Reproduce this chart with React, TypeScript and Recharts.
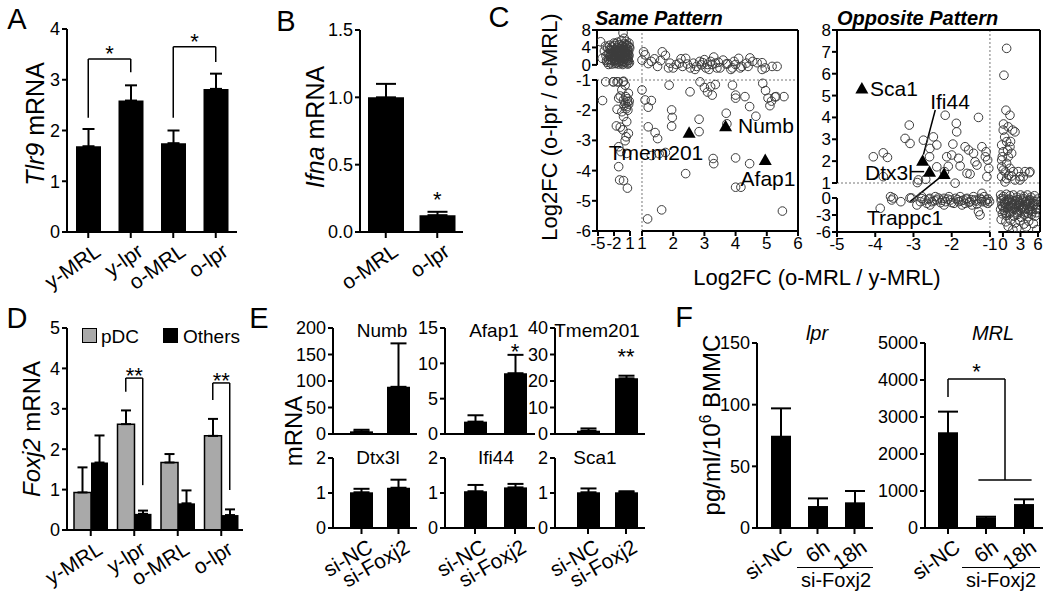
import React from 'react'
import {
  BarChart, Bar, ErrorBar, XAxis, YAxis, ReferenceLine, ReferenceDot,
  ScatterChart, Scatter,
} from 'recharts'

const FONT = '"Liberation Sans", Arial, Helvetica, sans-serif'
const INK = '#000'
const GREY = '#a9a9a9'
const AX = { stroke: INK, strokeWidth: 2 }

// ---------- A: Tlr9 ----------
const A_GROUPS = ['y-MRL', 'y-lpr', 'o-MRL', 'o-lpr']
const A_TLR9 = [1.69, 2.59, 1.75, 2.82]
const A_TLR9_SEM = [0.34, 0.3, 0.25, 0.3]

// ---------- B: Ifna ----------
const B_GROUPS = ['o-MRL', 'o-lpr']
const B_IFNA = [1.0, 0.125]
const B_IFNA_SEM = [0.1, 0.025]

// ---------- D: Foxj2 ----------
const D_GROUPS = ['y-MRL', 'y-lpr', 'o-MRL', 'o-lpr']
const D_PDC = [0.93, 2.62, 1.67, 2.33]
const D_PDC_SEM = [0.62, 0.34, 0.21, 0.42]
const D_OTHERS = [1.67, 0.4, 0.66, 0.37]
const D_OTHERS_SEM = [0.67, 0.08, 0.32, 0.14]

// ---------- E: knockdown ----------
const E_GROUPS = ['si-NC', 'si-Foxj2']
const E_NUMB = [5, 89], E_NUMB_SEM = [3, 82]
const E_AFAP1 = [1.75, 8.6], E_AFAP1_SEM = [0.9, 2.6]
const E_TMEM201 = [1.25, 21], E_TMEM201_SEM = [0.85, 1.0]
const E_DTX3L = [1.02, 1.15], E_DTX3L_SEM = [0.1, 0.23]
const E_IFI44 = [1.05, 1.16], E_IFI44_SEM = [0.18, 0.1]
const E_SCA1 = [1.02, 1.02], E_SCA1_SEM = [0.11, 0.03]

// ---------- F: IFN-a protein ----------
const F_GROUPS = ['si-NC', '6h', '18h']
const F_LPR = [74, 17, 20], F_LPR_SEM = [23, 7, 10]
const F_MRL = [2560, 262, 620], F_MRL_SEM = [585, 43, 155]

// ---------- C: scatter (Log2FC o-MRL/y-MRL , Log2FC o-lpr/o-MRL) ----------
// same pattern, x segment -5..1
const SAME_BLOB = [
  [-4.5, 5.3], [-0.3, 7.3], [-0.1, 6.1], [-3.8, 3.2], [-3.5, 2.1], [-3.2, 3.9], [-3.0, 1.2], [-2.9, 2.7],
  [-2.7, 0.5], [-2.6, 3.4], [-2.5, 1.8], [-2.4, 4.1], [-2.3, 2.4], [-2.2, 0.9], [-2.1, 3.0], [-2.0, 1.5],
  [-1.9, 4.4], [-1.85, 2.1], [-1.8, 0.3], [-1.7, 3.6], [-1.6, 1.2], [-1.55, 2.8], [-1.5, 4.0], [-1.4, 0.7],
  [-1.35, 1.9], [-1.3, 3.2], [-1.2, 2.4], [-1.15, 0.2], [-1.1, 4.6], [-1.0, 1.5], [-0.95, 3.0], [-0.9, 0.8],
  [-0.8, 2.2], [-0.75, 3.8], [-0.7, 1.1], [-0.6, 2.9], [-0.55, 0.4], [-0.5, 4.3], [-0.45, 1.7], [-0.4, 2.5],
  [-0.3, 3.5], [-0.25, 0.9], [-0.2, 2.0], [-0.1, 4.8], [-0.05, 1.3], [0.0, 3.1], [0.1, 0.6], [0.15, 2.3],
  [0.2, 4.0], [0.25, 1.6], [0.3, 2.8], [0.4, 0.3], [0.45, 3.6], [0.5, 1.9], [0.55, 2.6], [0.6, 4.4],
  [0.7, 1.0], [0.75, 3.2], [0.8, 2.1], [0.9, 0.5], [0.95, 3.9], [-2.8, 4.5], [-2.0, 5.0], [-1.3, 5.2],
  [-0.6, 5.6], [0.3, 5.4], [0.8, 5.0], [-3.3, 0.6], [-2.4, 0.2], [-1.9, 1.0], [-1.2, 1.2], [-0.35, 0.1],
  [0.55, 0.9], [-1.6, 3.0], [-0.9, 2.6], [0.05, 2.7], [0.65, 1.5], [-2.6, 2.6], [-2.2, 1.6], [-1.75, 4.8],
  [-1.05, 3.7], [-0.15, 3.9], [0.35, 4.7], [-3.6, 4.3], [-4.2, 1.5], [-3.4, 1.0], [-3.1, 2.4], [-2.85, 3.6],
  [-2.55, 1.1], [-2.35, 3.3], [-2.15, 2.1], [-1.95, 2.9], [-1.65, 1.7], [-1.45, 2.6], [-1.25, 3.9],
  [-1.05, 0.6], [-0.85, 1.9], [-0.65, 3.3], [-0.45, 0.7], [-0.25, 2.9], [-0.05, 1.9], [0.15, 3.3],
  [0.35, 1.2], [0.55, 3.0], [0.75, 2.4], [0.85, 4.2], [-1.55, 0.4], [-2.75, 1.9], [-3.0, 0.1], [0.65, 0.2],
  [-0.35, 4.4], [-1.85, 3.4], [0.25, 2.0],
]
const SAME_COL = [
  [-2.15, -1.06], [-1.42, -1.06], [-0.21, -1.04], [0.09, -1.17], [-0.52, -1.33], [0.7, -1.44], [-0.82, -1.53],
  [-0.21, -1.66], [0.09, -1.77], [0.52, -1.72], [-1.12, -1.6], [0.39, -1.88], [-1.42, -1.97], [-0.52, -2.05],
  [-0.21, -2.21], [0.39, -2.38], [-1.55, -2.52], [-0.82, -2.56], [-0.33, -2.65], [0.7, -2.77], [0.27, -2.88],
  [0.09, -3.01], [-4.15, -1.68], [-1.12, -3.21], [-0.7, -3.37], [0.39, -3.43], [-1.12, -3.87], [-0.94, -4.31],
  [-0.21, -4.33], [0.52, -4.58], [0.2, -1.55], [0.5, -1.62], [0.75, -1.8], [0.3, -1.95], [0.6, -2.0],
  [0.85, -1.7], [-0.1, -1.85], [-3.55, -1.06], [-2.1, -1.06], [-1.2, -1.06], [-0.3, -1.06],
]
// same pattern, x segment 1..6
const SAME_TOP = [
  [1.05, 3.0], [1.1, 2.3], [1.0, 1.1], [1.3, 0.8], [1.4, 1.4], [1.65, 3.0], [1.75, 2.2], [1.6, 1.0],
  [1.9, 0.4], [2.0, -0.2], [2.1, 0.1], [2.2, 0.4], [2.3, -0.1], [2.4, 1.5], [2.45, 0.2], [2.55, -0.2],
  [2.65, 0.4], [2.75, -0.1], [2.85, 0.8], [2.95, 0.5], [3.0, 1.2], [3.1, 0.1], [3.2, 0.8], [3.3, 1.8],
  [3.35, 0.4], [3.5, -0.2], [3.6, 1.1], [3.7, 0.2], [3.85, -0.3], [3.95, 0.8], [4.1, 1.5], [4.15, -0.2],
  [4.35, 0.4], [4.55, 0.8], [4.85, -0.3], [4.95, -0.2], [2.25, 1.4], [1.85, -0.2], [3.05, -0.2], [3.4, -0.2],
  [3.9, -0.2], [4.2, -0.1], [3.15, -0.3], [2.7, -0.3], [1.2, 0.3], [1.5, -0.1], [2.9, 0.0], [3.25, 0.1],
  [3.45, 0.6], [3.75, 0.3], [4.0, 0.1], [4.4, -0.1], [4.46, 1.6], [4.69, 0.5], [4.85, 0.5], [5.17, -0.1],
  [5.33, -0.1],
]
const SAME_LOW = [
  [1.0, -1.33], [1.1, -1.66], [1.3, -1.68], [1.2, -1.9], [1.87, -1.17], [2.54, -1.39], [2.86, -1.06],
  [3.0, -1.25], [3.1, -1.4], [3.2, -1.22], [3.25, -1.5], [3.35, -1.15], [1.95, -1.99], [1.97, -2.24],
  [1.95, -2.53], [1.2, -2.55], [1.42, -2.74], [1.5, -2.94], [1.3, -3.5], [1.55, -3.44], [1.75, -3.4],
  [2.83, -2.3], [2.83, -2.71], [2.4, -4.1], [3.7, -2.1], [3.72, -2.45], [3.28, -3.6], [3.3, -3.77],
  [4.0, -1.5], [4.0, -1.6], [4.3, -1.55], [4.45, -1.88], [4.65, -2.2], [3.9, -1.17], [4.0, -3.58],
  [4.45, -3.77], [4.0, -4.55], [4.17, -4.55], [4.87, -1.11], [4.96, -1.35], [5.15, -1.7], [5.3, -1.55],
  [5.55, -1.55], [5.1, -1.85], [5.5, -5.34], [1.63, -5.3], [1.18, -5.6], [5.04, -1.6], [5.26, -1.56],
]
const SAME_GENES = [[2.51, -2.75], [3.68, -2.53], [4.95, -3.65]] // Tmem201, Numb, Afap1

// opposite pattern, x segment -5..-1
const OPP_UP = [
  [-4.05, 2.2], [-3.79, 2.38], [-3.68, 2.17], [-3.79, 1.29], [-3.22, 3.04], [-3.09, 2.81], [-3.11, 3.65],
  [-2.74, 2.96], [-2.48, 3.11], [-2.39, 2.74], [-2.57, 2.58], [-2.58, 2.2], [-2.39, 1.74], [-2.17, 4.1],
  [-1.88, 3.73], [-1.87, 3.34], [-1.97, 2.78], [-2.13, 2.2], [-2.0, 2.28], [-1.82, 2.13], [-1.65, 2.66],
  [-1.56, 2.51], [-1.43, 2.36], [-1.3, 4.0], [-1.21, 2.66], [-1.39, 1.97], [-1.34, 1.82], [-1.6, 1.44],
  [-1.52, 1.41], [-1.1, 2.43], [-1.06, 2.05], [-1.03, 1.67], [-1.12, 2.2], [-1.78, 1.78], [-2.09, 1.76],
  [-2.19, 1.52], [-1.91, 0.99], [-2.87, 1.14], [-2.9, 1.02], [-2.68, 1.17], [-1.08, 1.29],
]
const OPP_LOW = [
  [-3.87, -1.82], [-3.6, 0.09], [-3.57, -0.35], [-3.33, -0.65], [-3.05, 0.0], [-2.82, -0.65], [-2.78, 0.09],
  [-2.7, -0.35], [-2.65, -0.94], [-2.57, -0.06], [-2.52, -0.65], [-2.43, 0.09], [-2.39, -0.35], [-2.29, -0.82],
  [-2.2, -0.06], [-2.16, -0.65], [-2.07, 0.09], [-2.03, -0.35], [-1.94, -0.94], [-1.9, -0.06], [-1.82, -0.65],
  [-1.78, 0.09], [-1.69, -0.35], [-1.65, -0.94], [-1.6, -0.06], [-1.52, -0.65], [-1.43, 0.09], [-1.39, -0.35],
  [-1.34, -1.06], [-1.26, -0.06], [-1.21, -0.65], [-1.15, 0.09], [-1.1, -0.35], [-1.06, -0.94], [-1.01, -0.65],
  [-1.3, -2.41], [-1.26, -3.0], [-1.47, -1.23], [-1.73, -1.23], [-2.2, -1.23], [-2.91, -1.23], [-2.57, -1.23],
  [-1.21, 0.31], [-2.6, -0.2], [-2.45, -0.5], [-2.35, 0.0], [-2.25, -0.4], [-2.1, -0.2], [-2.0, -0.8],
  [-1.85, -0.3], [-1.75, -0.5], [-1.62, -0.2], [-1.55, -0.8], [-1.48, -0.3], [-1.36, -0.55], [-1.22, -0.3],
  [-1.12, -0.7], [-1.05, -0.2], [-3.53, 0.0], [-3.09, 0.0], [-2.78, -0.1],
]
// opposite pattern, x segment 0..6
const OPP_COL = [
  [0.63, 7.16], [0.17, 5.93], [0.51, 4.33], [1.2, 4.1], [0.05, 3.42], [0.9, 3.57], [1.66, 3.42], [-0.22, 2.74],
  [0.63, 2.89], [1.2, 2.66], [0.05, 2.43], [0.9, 2.2], [1.49, 2.36], [-0.22, 2.05], [0.63, 1.9], [0.05, 1.59],
  [1.2, 1.67], [1.77, 1.52], [-0.22, 1.29], [0.63, 1.2], [1.49, 1.32], [2.62, 1.52], [3.48, 1.29], [4.51, 1.47],
  [2.92, 1.14], [0.34, 1.05], [2.06, 1.14], [-0.22, 1.74], [2.06, 3.34], [3.77, 1.52], [4.63, 1.52], [2.92, 1.29],
  [0.3, 3.1], [0.8, 2.5], [-0.1, 2.2], [1.3, 2.9], [0.4, 1.5], [1.0, 1.35], [0.1, 3.7],
]
const OPP_BLOB = [
  [-0.4, 0.2], [0.1, 0.1], [0.6, 0.25], [1.2, 0.15], [1.8, 0.2], [2.4, 0.05], [3.0, 0.2], [3.6, 0.1],
  [4.2, 0.2], [4.8, 0.05], [5.4, 0.15], [-0.3, -0.5], [0.3, -0.7], [0.9, -0.4], [1.5, -0.8], [2.1, -0.5],
  [2.7, -0.9], [3.3, -0.4], [3.9, -0.7], [4.5, -0.5], [5.1, -0.9], [5.7, -0.6], [-0.2, -1.3], [0.4, -1.1],
  [1.0, -1.5], [1.6, -1.2], [2.2, -1.6], [2.8, -1.3], [3.4, -1.7], [4.0, -1.2], [4.6, -1.5], [5.2, -1.3],
  [5.8, -1.7], [-0.4, -2.0], [0.2, -2.2], [0.8, -1.9], [1.4, -2.4], [2.0, -2.0], [2.6, -2.3], [3.2, -1.9],
  [3.8, -2.5], [4.4, -2.1], [5.0, -2.4], [5.6, -2.0], [-0.1, -2.8], [0.6, -3.1], [1.2, -2.7], [1.9, -3.2],
  [2.5, -2.9], [3.1, -3.4], [3.7, -3.0], [4.3, -3.3], [4.9, -2.9], [5.5, -3.2], [-0.3, -3.8], [0.5, -4.2],
  [1.3, -3.9], [2.1, -4.4], [2.9, -4.0], [3.6, -4.6], [4.4, -4.1], [5.2, -4.5], [0.9, -5.0], [2.4, -5.3],
  [4.0, -5.1], [5.8, -5.6], [1.7, -5.6], [0.2, -0.2], [1.1, -0.2], [2.5, -0.3], [3.5, -0.1], [4.6, -0.3],
  [5.9, -0.2], [0.5, -1.7], [1.9, -1.0], [3.0, -1.1], [4.2, -0.9], [5.4, -1.1], [-0.3, -0.1], [0.2, -1.0],
  [0.7, -0.6], [1.3, -1.4], [1.7, -0.5], [2.3, -1.1], [2.9, -0.6], [3.5, -1.4], [4.1, -0.5], [4.7, -1.0],
  [5.3, -0.6], [5.9, -1.2], [0.0, -1.6], [0.9, -2.5], [1.6, -1.8], [2.4, -2.6], [3.0, -2.2], [3.6, -1.9],
  [4.3, -2.7], [5.0, -1.8], [5.7, -2.6], [0.4, -2.6], [2.7, -1.6], [4.7, -2.2],
]
const OPP_GENES = [[-4.35, 5.32], [-2.76, 2.02], [-2.58, 1.52], [-2.2, 1.41]] // Sca1, Ifi44, Dtx3l, Trappc1

// broken-axis mapping to a linear display scale
const sameXL = (v: number) => 0.615 - (1 - v) * 0.1709
const sameXR = (v: number) => v
const sameY = (v: number) => (v <= -1 ? v : v < 0 ? -1 + (v + 1) * 0.5 : -0.5 + v * 0.1445)
const oppXL = (v: number) => v
const oppXR = (v: number) => -0.66 + v * 0.1527
const oppY = (v: number) => (v >= 1 ? v : v >= 0 ? 0.314 + v * 0.686 : 0.314 + v * 0.2593)

// ---------- helpers ----------
function T({ x, y, size = 20, rot = 0, italic = false, bold = false, start = false, children }: any) {
  return (
    <div
      style={{
        position: 'absolute', left: x, top: y, fontSize: size, lineHeight: 1,
        fontStyle: italic ? 'italic' : 'normal', fontWeight: bold ? 700 : 400,
        whiteSpace: 'nowrap', transform: `translate(${start ? '0' : '-50%'}, -50%) rotate(${rot}deg)`,
      }}
    >
      {children}
    </div>
  )
}

const seg = (k: string, a: number[], b: number[], o: any = {}) => (
  <ReferenceLine
    key={k}
    xAxisId={o.xId ?? 0}
    segment={[{ x: a[0], y: a[1] }, { x: b[0], y: b[1] }]}
    stroke={o.stroke ?? INK}
    strokeWidth={o.w ?? 2}
    strokeDasharray={o.dash}
    ifOverflow="visible"
  />
)

const bracket = (k: string, xl: number, xr: number, top: number, yl: number, yr: number) => [
  seg(k + 'l', [xl, yl], [xl, top], { xId: 'n', w: 1.5 }),
  seg(k + 't', [xl, top], [xr, top], { xId: 'n', w: 1.5 }),
  seg(k + 'r', [xr, top], [xr, yr], { xId: 'n', w: 1.5 }),
]

const star = (k: string, x: number, y: number, s = '*') => (
  <ReferenceDot
    key={k}
    xAxisId="n"
    x={x}
    y={y}
    r={0}
    ifOverflow="visible"
    shape={(p: any) => (
      <text x={p.cx} y={p.cy + 12} textAnchor="middle" fontSize={22} fill={INK}>{s}</text>
    )}
  />
)

const rows = (groups: string[], mean: number[], sem: number[]) =>
  groups.map((name, i) => ({ name, v: mean[i], e: [0, sem[i]] }))

const PL = 62, PT = 24, PR = 12, PB = 90

function BarPanel({ x0, x1, y0, y1, domain, ticks, fmt, data, bars, barSize, cap, pad = 0, angle = -30, cats = true, children }: any) {
  const w = x1 - x0, h = y1 - y0
  const n = data.length
  const band = (w - pad) / n
  // pos = category centre on a hidden linear axis, used for brackets and stars
  const rowsN = data.map((r: any, i: number) => ({ ...r, pos: i + 0.5 }))
  const tick = cats
    ? (p: any) => (
        <text
          transform={`translate(${p.x + 5},${p.y + 2}) rotate(${angle})`}
          textAnchor="end"
          dominantBaseline="hanging"
          fontSize={21}
          fill={INK}
        >
          {p.payload.value}
        </text>
      )
    : false
  return (
    <div style={{ position: 'absolute', left: x0 - PL, top: y0 - PT }}>
      <BarChart width={PL + w + PR} height={PT + h + PB} data={rowsN} margin={{ top: PT, right: PR, bottom: 0, left: 0 }} barGap={0}>
        <XAxis dataKey="name" height={PB} interval={0} padding={{ left: pad, right: 0 }} axisLine={AX} tickLine={AX} tickSize={6} tick={tick} />
        <XAxis
          xAxisId="n"
          dataKey="pos"
          type="number"
          domain={['dataMin', 'dataMax']}
          padding={{ left: pad + band / 2, right: band / 2 }}
          hide
        />
        <YAxis
          width={PL}
          domain={domain}
          ticks={ticks}
          interval={0}
          allowDataOverflow
          axisLine={AX}
          tickLine={AX}
          tickSize={5}
          tickMargin={2}
          tickFormatter={fmt}
          tick={{ fontSize: 18, fill: INK }}
        />
        {bars.map((b: any) => (
          <Bar
            key={b.key}
            dataKey={b.key}
            fill={b.fill}
            stroke={b.stroke}
            strokeWidth={b.stroke ? 1.5 : 0}
            barSize={barSize}
            isAnimationActive={false}
          >
            <ErrorBar dataKey={b.err} width={cap} stroke={INK} strokeWidth={2} direction="y" />
          </Bar>
        ))}
        {children}
      </BarChart>
    </div>
  )
}

const SPL = 44, SPT = 10, SPR = 10, SPB = 40

function ScatterPanel({ x0, x1, y0, y1, xDom, yDom, xTicks, yTicks, children }: any) {
  const w = x1 - x0, h = y1 - y0
  const lab = (list: any[]) => (v: number) => {
    const hit = list.find((t) => Math.abs(t[0] - v) < 1e-6)
    return hit ? hit[1] : ''
  }
  return (
    <div style={{ position: 'absolute', left: x0 - SPL, top: y0 - SPT }}>
      <ScatterChart width={SPL + w + SPR} height={SPT + h + SPB} margin={{ top: SPT, right: SPR, bottom: 0, left: 0 }}>
        <XAxis
          type="number"
          dataKey="x"
          domain={xDom}
          allowDataOverflow
          ticks={xTicks.map((t: any) => t[0])}
          interval={0}
          tickFormatter={lab(xTicks)}
          axisLine={false}
          tickLine={AX}
          tickSize={5}
          tickMargin={1}
          tick={{ fontSize: 17, fill: INK }}
          height={SPB}
        />
        <YAxis
          type="number"
          dataKey="y"
          domain={yDom}
          allowDataOverflow
          ticks={yTicks.map((t: any) => t[0])}
          interval={0}
          tickFormatter={lab(yTicks)}
          axisLine={false}
          tickLine={AX}
          tickSize={5}
          tickMargin={1}
          tick={{ fontSize: 17, fill: INK }}
          width={SPL}
        />
        {children}
      </ScatterChart>
    </div>
  )
}

const ring = (p: any) => <circle cx={p.cx} cy={p.cy} r={4.3} fill="none" stroke="#3c3c3c" strokeWidth={1} />
const tri = (p: any) => (
  <path d={`M${p.cx},${p.cy - 6.5}L${p.cx + 6.5},${p.cy + 5}L${p.cx - 6.5},${p.cy + 5}Z`} fill={INK} />
)
const pts = (list: number[][], fx: (v: number) => number, fy: (v: number) => number) =>
  list.map(([x, y]) => ({ x: fx(x), y: fy(y) }))

const aData = rows(A_GROUPS, A_TLR9, A_TLR9_SEM)
const bData = rows(B_GROUPS, B_IFNA, B_IFNA_SEM)
const dData = D_GROUPS.map((name, i) => ({
  name, p: D_PDC[i], pe: [0, D_PDC_SEM[i]], o: D_OTHERS[i], oe: [0, D_OTHERS_SEM[i]],
}))
const ONE = [{ key: 'v', err: 'e', fill: INK }]

const SAME_XT = [[sameXL(-5), '-5'], [sameXL(-2), '-2'], [sameXL(1), '1'], [1, '1'], [2, '2'], [3, '3'], [4, '4'], [5, '5'], [6, '6']]
const SAME_YT = [[-6, '-6'], [-5, '-5'], [-4, '-4'], [-3, '-3'], [-2, '-2'], [-1, '-1'], [sameY(0), '0'], [sameY(4), '4'], [sameY(8), '8']]
const OPP_XT = [[-5, '-5'], [-4, '-4'], [-3, '-3'], [-2, '-2'], [-1, '-1'], [oppXR(0), '0'], [oppXR(3), '3'], [oppXR(6), '6']]
const OPP_YT = [[oppY(-6), '-6'], [oppY(-3), '-3'], [oppY(0), '0'], [1, '1'], [2, '2'], [3, '3'], [4, '4'], [5, '5'], [6, '6'], [7, '7'], [8, '8']]

export default function App() {
  const sx0 = -0.442, sx1 = 6, sy0 = -6, sy1 = sameY(8)
  const ox0 = -5, ox1 = 0.309, oy0 = oppY(-6), oy1 = 8
  const dash = { stroke: '#777', w: 1, dash: '2 2' }
  return (
    <div
      style={{
        position: 'absolute', left: 0, top: 0, width: 1050, height: 599, overflow: 'hidden',
        background: '#fff', color: INK, fontFamily: FONT,
      }}
    >
      {/* A */}
      <BarPanel x0={67} x1={237} y0={29} y1={232} domain={[0, 4]} ticks={[0, 1, 2, 3, 4]} data={aData} bars={ONE} barSize={25} cap={6} angle={-35}>
        {bracket('a1', 0.5, 1.5, 3.41, 2.25, 3.15)}
        {star('a1s', 1, 3.6)}
        {bracket('a2', 2.5, 3.5, 3.65, 2.25, 3.35)}
        {star('a2s', 3, 3.84)}
      </BarPanel>

      {/* B */}
      <BarPanel x0={360} x1={463} y0={30} y1={232} domain={[0, 1.5]} ticks={[0, 0.5, 1, 1.5]} fmt={(v: number) => v.toFixed(1)} data={bData} bars={ONE} barSize={36} cap={10} angle={-35}>
        {star('bs', 1.5, 0.275)}
      </BarPanel>

      {/* C left: same pattern */}
      <ScatterPanel x0={597} x1={798} y0={30} y1={231} xDom={[sx0, sx1]} yDom={[sy0, sy1]} xTicks={SAME_XT} yTicks={SAME_YT}>
        {seg('sd1', [1, sy0], [1, sy1], dash)}
        {seg('sd2', [sx0, -1], [sx1, -1], dash)}
        {seg('sb1', [sx0, sy0], [sameXL(1), sy0])}
        {seg('sb2', [1, sy0], [sx1, sy0])}
        {seg('sl1', [sx0, sy0], [sx0, -1])}
        {seg('sl2', [sx0, sameY(0)], [sx0, sy1])}
        {seg('st', [sx0, sy1], [sx1, sy1])}
        {seg('sr', [sx1, sy0], [sx1, sy1])}
        <Scatter data={pts(SAME_BLOB, sameXL, sameY)} shape={ring} isAnimationActive={false} />
        <Scatter data={pts(SAME_COL, sameXL, sameY)} shape={ring} isAnimationActive={false} />
        <Scatter data={pts(SAME_TOP, sameXR, sameY)} shape={ring} isAnimationActive={false} />
        <Scatter data={pts(SAME_LOW, sameXR, sameY)} shape={ring} isAnimationActive={false} />
        <Scatter data={pts(SAME_GENES, sameXR, sameY)} shape={tri} isAnimationActive={false} />
      </ScatterPanel>

      {/* C right: opposite pattern */}
      <ScatterPanel x0={837} x1={1040} y0={30} y1={232} xDom={[ox0, ox1]} yDom={[oy0, oy1]} xTicks={OPP_XT} yTicks={OPP_YT}>
        {seg('od1', [-1, oy0], [-1, oy1], dash)}
        {seg('od2', [ox0, 1], [ox1, 1], dash)}
        {seg('ob1', [ox0, oy0], [-1, oy0])}
        {seg('ob2', [oppXR(-0.8), oy0], [ox1, oy0])}
        {seg('ol1', [ox0, oy0], [ox0, oppY(0)])}
        {seg('ol2', [ox0, 1], [ox0, oy1])}
        {seg('ot', [ox0, oy1], [ox1, oy1])}
        {seg('or', [ox1, oy0], [ox1, oy1])}
        <Scatter data={pts(OPP_UP, oppXL, oppY)} shape={ring} isAnimationActive={false} />
        <Scatter data={pts(OPP_LOW, oppXL, oppY)} shape={ring} isAnimationActive={false} />
        <Scatter data={pts(OPP_COL, oppXR, oppY)} shape={ring} isAnimationActive={false} />
        <Scatter data={pts(OPP_BLOB, oppXR, oppY)} shape={ring} isAnimationActive={false} />
        <Scatter data={pts(OPP_GENES, oppXL, oppY)} shape={tri} isAnimationActive={false} />
        {seg('lk1', [-2.43, 4.34], [-2.74, 2.3], { w: 1.5 })}
        {seg('lk2', [-3.06, 1.52], [-2.72, 1.52], { w: 1.5 })}
        {seg('lk3', [-3.09, oppY(-0.65)], [-2.28, 1.29], { w: 1.5 })}
      </ScatterPanel>

      {/* D */}
      <BarPanel
        x0={67} x1={243} pad={2} y0={328} y1={530} domain={[0, 5]} ticks={[0, 1, 2, 3, 4, 5]} data={dData}
        bars={[{ key: 'p', err: 'pe', fill: GREY, stroke: INK }, { key: 'o', err: 'oe', fill: INK }]}
        barSize={17} cap={5} angle={-32}
      >
        {bracket('d1', 1.305, 1.695, 3.76, 3.42, 1.11)}
        {star('d1s', 1.5, 3.93, '**')}
        {bracket('d2', 3.305, 3.695, 3.64, 3.22, 0.99)}
        {star('d2s', 3.5, 3.8, '**')}
      </BarPanel>

      {/* E top row */}
      <BarPanel x0={333} x1={417} pad={10} y0={328} y1={434} domain={[0, 200]} ticks={[0, 50, 100, 150, 200]} data={rows(E_GROUPS, E_NUMB, E_NUMB_SEM)} bars={ONE} barSize={23} cap={8} cats={false} />
      <BarPanel x0={445} x1={535} pad={10} y0={328} y1={434} domain={[0, 15]} ticks={[0, 5, 10, 15]} data={rows(E_GROUPS, E_AFAP1, E_AFAP1_SEM)} bars={ONE} barSize={23} cap={8} cats={false}>
        {star('es1', 1.5, 12.3)}
      </BarPanel>
      <BarPanel x0={555} x1={645} pad={14} y0={328} y1={434} domain={[0, 40]} ticks={[0, 10, 20, 30, 40]} data={rows(E_GROUPS, E_TMEM201, E_TMEM201_SEM)} bars={ONE} barSize={23} cap={8} cats={false}>
        {star('es2', 1.5, 31, '**')}
      </BarPanel>

      {/* E bottom row */}
      <BarPanel x0={333} x1={417} pad={10} y0={458} y1={528} domain={[0, 2]} ticks={[0, 1, 2]} data={rows(E_GROUPS, E_DTX3L, E_DTX3L_SEM)} bars={ONE} barSize={23} cap={8} angle={-30} />
      <BarPanel x0={445} x1={535} pad={10} y0={458} y1={528} domain={[0, 2]} ticks={[0, 1, 2]} data={rows(E_GROUPS, E_IFI44, E_IFI44_SEM)} bars={ONE} barSize={23} cap={8} angle={-30} />
      <BarPanel x0={555} x1={645} pad={14} y0={458} y1={528} domain={[0, 2]} ticks={[0, 1, 2]} data={rows(E_GROUPS, E_SCA1, E_SCA1_SEM)} bars={ONE} barSize={23} cap={8} angle={-30} />

      {/* F */}
      <BarPanel x0={757} x1={873} pad={5} y0={343} y1={528} domain={[0, 150]} ticks={[0, 50, 100, 150]} data={rows(F_GROUPS, F_LPR, F_LPR_SEM)} bars={ONE} barSize={20} cap={10} angle={-35} />
      <BarPanel x0={925} x1={1043} pad={4} y0={343} y1={528} domain={[0, 5000]} ticks={[0, 1000, 2000, 3000, 4000, 5000]} data={rows(F_GROUPS, F_MRL, F_MRL_SEM)} bars={ONE} barSize={20} cap={10} angle={-35}>
        {seg('f1', [0.5, 3540], [0.5, 4030], { xId: 'n', w: 1.5 })}
        {seg('f2', [0.5, 4030], [2.0, 4030], { xId: 'n', w: 1.5 })}
        {seg('f3', [2.0, 4030], [2.0, 1300], { xId: 'n', w: 1.5 })}
        {seg('f4', [1.3, 1300], [2.7, 1300], { xId: 'n', w: 1.5 })}
        {star('fs', 1.25, 4350)}
      </BarPanel>

      {/* panel letters */}
      <T x={17} y={19} size={29}>A</T>
      <T x={286} y={21} size={29}>B</T>
      <T x={499} y={17} size={29}>C</T>
      <T x={17} y={318} size={29}>D</T>
      <T x={259} y={318} size={29}>E</T>
      <T x={684} y={317} size={29}>F</T>

      {/* axis titles */}
      <T x={35} y={124} size={25} rot={-90}><i>Tlr9</i> mRNA</T>
      <T x={315} y={127} size={25} rot={-90}><i>Ifna</i> mRNA</T>
      <T x={550} y={127} size={22} rot={-90}>Log2FC (o-lpr / o-MRL)</T>
      <T x={817} y={278} size={22}>Log2FC (o-MRL / y-MRL)</T>
      <T x={32} y={429} size={24} rot={-90}><i>Foxj2</i> mRNA</T>
      <T x={294} y={431} size={24} rot={-90}>mRNA</T>
      <T x={711} y={425} size={24} rot={-90}>pg/ml/10<sup style={{ fontSize: '0.65em' }}>6</sup> BMMC</T>

      {/* C titles and gene labels */}
      <T x={595} y={18} size={20} bold italic start>Same Pattern</T>
      <T x={837} y={18} size={20} bold italic start>Opposite Pattern</T>
      <T x={656} y={152} size={21}>Tmem201</T>
      <T x={766} y={125} size={21}>Numb</T>
      <T x={768} y={178} size={21}>Afap1</T>
      <T x={894} y={88} size={21}>Sca1</T>
      <T x={950} y={101} size={21}>Ifi44</T>
      <T x={889} y={172} size={21}>Dtx3l</T>
      <T x={905} y={217} size={21}>Trappc1</T>

      {/* D legend */}
      <div style={{ position: 'absolute', left: 82, top: 328, width: 13, height: 13, background: GREY, border: '1.5px solid #000' }} />
      <T x={101} y={336} size={19} start>pDC</T>
      <div style={{ position: 'absolute', left: 163, top: 328, width: 15, height: 15, background: INK }} />
      <T x={183} y={336} size={19} start>Others</T>

      {/* E titles */}
      <T x={382} y={330} size={19}>Numb</T>
      <T x={494} y={330} size={19}>Afap1</T>
      <T x={597} y={330} size={19}>Tmem201</T>
      <T x={378} y={457} size={19}>Dtx3l</T>
      <T x={496} y={457} size={19}>Ifi44</T>
      <T x={595} y={457} size={19}>Sca1</T>

      {/* F titles and group bars */}
      <T x={817} y={333} size={20} italic>lpr</T>
      <T x={993} y={333} size={20} italic>MRL</T>
      <div style={{ position: 'absolute', left: 797, top: 567, width: 76, height: 0, borderTop: '1.5px solid #000' }} />
      <div style={{ position: 'absolute', left: 962, top: 567, width: 78, height: 0, borderTop: '1.5px solid #000' }} />
      <T x={836} y={580} size={20}>si-Foxj2</T>
      <T x={1001} y={580} size={20}>si-Foxj2</T>
    </div>
  )
}
